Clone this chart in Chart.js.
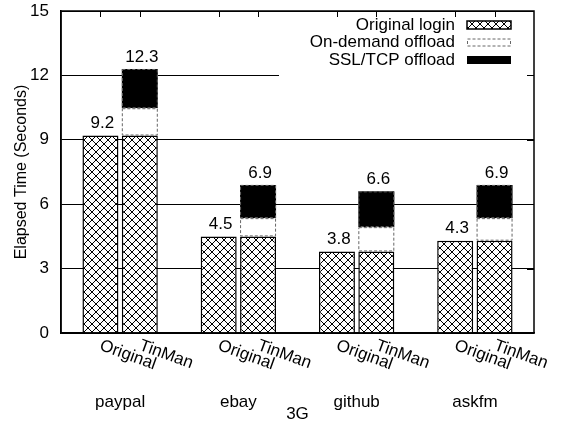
<!DOCTYPE html>
<html><head><meta charset="utf-8">
<script src="https://cdn.jsdelivr.net/npm/chart.js@4"></script>
<style>html,body{margin:0;padding:0;background:#fff}</style>
</head><body>
<canvas id="c" width="566" height="425"></canvas>
<script>
const categories = ['paypal', 'ebay', 'github', 'askfm'];
const variants = ['Original', 'TinMan'];
const originalLogin = [9.2, 4.5, 3.8, 4.3];
const onDemandOffload = [1.27, 0.85, 1.13, 1.05];
const sslTcpOffload = [1.83, 1.55, 1.67, 1.55];
const tinManTotals = [12.3, 6.9, 6.6, 6.9];
const yTicks = [0, 3, 6, 9, 12, 15];
const seriesNames = ['Original login', 'On-demand offload', 'SSL/TCP offload'];
const xAxisTitle = '3G';
const yAxisTitle = 'Elapsed Time (Seconds)';

const F = "'Liberation Sans', Arial, Helvetica, sans-serif";
const canvas = document.getElementById('c');
const ctx0 = canvas.getContext('2d');

function makeHatch() {
  const t = document.createElement('canvas');
  t.width = 8; t.height = 8;
  const g = t.getContext('2d');
  g.fillStyle = '#fff'; g.fillRect(0, 0, 8, 8);
  g.strokeStyle = '#000'; g.lineWidth = 1;
  g.beginPath();
  g.moveTo(-1, -1); g.lineTo(9, 9);
  g.moveTo(9, -1); g.lineTo(-1, 9);
  g.stroke();
  return ctx0.createPattern(t, 'repeat');
}
const hatch = makeHatch();

const CAT_PCT = 0.666, BAR_PCT = 0.914;

const framePlugin = {
  id: 'frame',
  afterDatasetsDraw(chart) {
    const ctx = chart.ctx, a = chart.chartArea, ys = chart.scales.y;
    ctx.save();
    [2, 3].forEach(di => {
      chart.getDatasetMeta(di).data.forEach(el => {
        const p = el.getProps(['x', 'y', 'base', 'width'], true);
        ctx.strokeStyle = '#666'; ctx.lineWidth = 1; ctx.setLineDash([3, 2]);
        ctx.strokeRect(p.x - p.width / 2 + 0.5, p.y + 0.5, p.width - 1, p.base - p.y - 1);
      });
    });
    ctx.setLineDash([]);
    const boxL = a.right - 255, boxT = a.top + 1, boxB = ys.getPixelForValue(12) + 3;
    ctx.fillStyle = '#fff';
    ctx.fillRect(boxL, boxT, a.right - 1 - boxL, boxB - boxT);
    const rows = [a.top + 14, a.top + 31.5, a.top + 49];
    ctx.font = '17px ' + F; ctx.fillStyle = '#000';
    ctx.textAlign = 'right'; ctx.textBaseline = 'middle';
    const tx = a.right - 79, px = a.right - 67, pw = 44, ph = 8;
    seriesNames.forEach((n, i) => {
      ctx.fillStyle = '#000';
      ctx.fillText(n, tx, rows[i]);
      const py = rows[i] - ph / 2;
      if (i === 0) {
        ctx.fillStyle = hatch; ctx.fillRect(px, py, pw, ph);
        ctx.strokeStyle = '#000'; ctx.lineWidth = 1.5; ctx.strokeRect(px, py, pw, ph);
      } else if (i === 1) {
        ctx.fillStyle = '#fff'; ctx.fillRect(px, py, pw, ph);
        ctx.strokeStyle = '#666'; ctx.lineWidth = 1; ctx.setLineDash([3, 2]);
        ctx.strokeRect(px + 0.5, py + 0.5, pw - 1, ph - 1); ctx.setLineDash([]);
      } else {
        ctx.fillStyle = '#000'; ctx.fillRect(px, py, pw, ph);
      }
    });
    ctx.fillStyle = '#000'; ctx.textAlign = 'center'; ctx.textBaseline = 'middle';
    chart.getDatasetMeta(0).data.forEach((el, i) => {
      ctx.fillText(originalLogin[i].toFixed(1), el.x + 2, el.y - 12);
    });
    chart.getDatasetMeta(3).data.forEach((el, i) => {
      ctx.fillText(tinManTotals[i].toFixed(1), el.x + 2, el.y - 12);
    });
    ctx.restore();
  },
  afterDraw(chart) {
    const ctx = chart.ctx, a = chart.chartArea, ys = chart.scales.y;
    ctx.save();
    ctx.strokeStyle = '#000'; ctx.lineWidth = 1.5;
    ctx.strokeRect(a.left, a.top, a.right - a.left, a.bottom - a.top);
    ctx.lineWidth = 1;
    ctx.beginPath();
    [0, 1].forEach(di => chart.getDatasetMeta(di).data.forEach(el => {
      ctx.moveTo(Math.round(el.x) + 0.5, a.top); ctx.lineTo(Math.round(el.x) + 0.5, a.top + 6);
    }));
    yTicks.forEach(v => {
      const y = Math.round(ys.getPixelForValue(v)) + 0.5;
      ctx.moveTo(a.right - 7, y); ctx.lineTo(a.right, y);
    });
    ctx.stroke();
    ctx.fillStyle = '#000'; ctx.font = '17px ' + F;
    ctx.textAlign = 'left'; ctx.textBaseline = 'middle';
    [0, 1].forEach(di => chart.getDatasetMeta(di).data.forEach(el => {
      ctx.save();
      ctx.translate(el.x, a.bottom + 12);
      ctx.rotate(20 * Math.PI / 180);
      ctx.fillText(variants[di], 0, 0);
      ctx.restore();
    }));
    ctx.restore();
  }
};

new Chart(canvas, {
  type: 'bar',
  data: {
    labels: categories,
    datasets: [
      { label: seriesNames[0], data: originalLogin, stack: 'orig', backgroundColor: hatch, borderColor: '#000', borderWidth: 1.5, categoryPercentage: CAT_PCT, barPercentage: BAR_PCT },
      { label: seriesNames[0], data: originalLogin, stack: 'tin', backgroundColor: hatch, borderColor: '#000', borderWidth: 1.5, categoryPercentage: CAT_PCT, barPercentage: BAR_PCT },
      { label: seriesNames[1], data: onDemandOffload, stack: 'tin', backgroundColor: '#fff', borderWidth: 0, categoryPercentage: CAT_PCT, barPercentage: BAR_PCT },
      { label: seriesNames[2], data: sslTcpOffload, stack: 'tin', backgroundColor: '#000', borderWidth: 0, categoryPercentage: CAT_PCT, barPercentage: BAR_PCT }
    ]
  },
  options: {
    responsive: false, animation: false, devicePixelRatio: 1,
    layout: { padding: { top: 11, right: 32, left: 0, bottom: 0 } },
    plugins: { legend: { display: false }, tooltip: { enabled: false } },
    scales: {
      x: {
        stacked: true,
        grid: { display: false, drawTicks: false },
        border: { display: true, color: '#000', width: 1.5 },
        ticks: { font: { family: F, size: 17 }, color: '#000', padding: 59, maxRotation: 0, autoSkip: false },
        title: { display: true, text: xAxisTitle, font: { family: F, size: 17 }, color: '#000', padding: 0 },
        afterFit(s) { s.height = 92; s.paddingLeft = 0; s.paddingRight = 0; }
      },
      y: {
        stacked: true, min: 0, max: 15,
        afterBuildTicks(s) { s.ticks = yTicks.map(v => ({ value: v })); },
        grid: { color: '#000', lineWidth: 1, drawTicks: false },
        border: { display: true, color: '#000', width: 1.5 },
        ticks: { font: { family: F, size: 17 }, color: '#000', padding: 12 },
        title: { display: true, text: yAxisTitle, font: { family: F, size: 16 }, color: '#000', padding: { top: 12, bottom: 0 } },
        afterFit(s) { s.width = 61; s.paddingTop = 0; s.paddingBottom = 0; }
      }
    }
  },
  plugins: [framePlugin]
});
</script>
</body></html>
